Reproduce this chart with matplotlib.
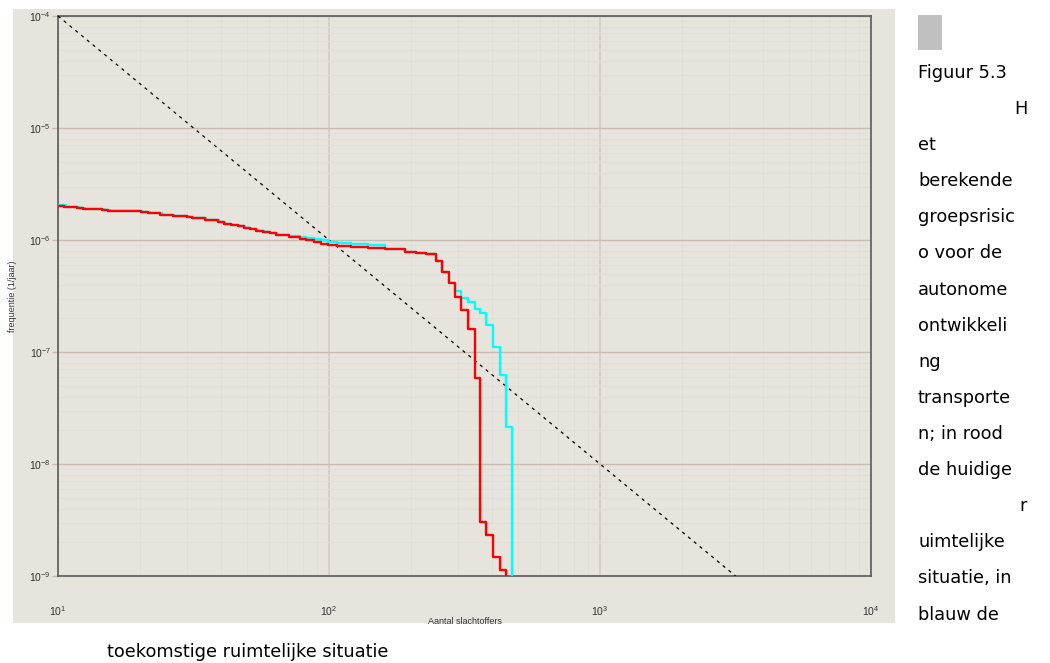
import matplotlib
matplotlib.use("Agg")
import matplotlib.pyplot as plt
from matplotlib.patches import Rectangle
from matplotlib.ticker import LogLocator, NullFormatter

# ---------------- data ----------------
red_N = [10.00, 10.52, 11.75, 12.36, 14.53, 15.29, 18.12, 20.23, 21.47, 23.77,
         26.54, 29.89, 31.18, 34.83, 38.89, 40.92, 43.42, 46.08, 48.49, 51.02,
         54.00, 57.11, 60.45, 64.00, 71.20, 77.98, 82.54, 87.82, 93.76, 99.15,
         107.0, 120.9, 139.3, 160.4, 190.1, 208.7, 227.3, 247.4, 261.0, 276.2,
         290.6, 307.6, 325.3, 344.4, 360.9, 380.4, 402.3, 425.8, 450.7]
red_f = [2.023e-6, 1.983e-6, 1.943e-6, 1.904e-6, 1.865e-6, 1.827e-6, 1.808e-6, 1.778e-6, 1.742e-6, 1.682e-6,
         1.648e-6, 1.605e-6, 1.572e-6, 1.518e-6, 1.448e-6, 1.398e-6, 1.361e-6, 1.325e-6, 1.287e-6, 1.246e-6,
         1.211e-6, 1.179e-6, 1.155e-6, 1.108e-6, 1.064e-6, 1.027e-6, 1.000e-6, 9.66e-7, 9.27e-7, 9.02e-7,
         8.84e-7, 8.61e-7, 8.43e-7, 8.26e-7, 7.86e-7, 7.61e-7, 7.45e-7, 6.49e-7, 5.18e-7, 4.13e-7,
         3.12e-7, 2.37e-7, 1.605e-7, 5.86e-8, 3.05e-9, 2.32e-9, 1.487e-9, 1.131e-9, 1e-10]

cyan_N = [10.00, 10.70, 11.95, 12.60, 14.80, 15.55, 18.40, 20.50, 21.80, 24.10,
          26.90, 30.20, 31.50, 35.20, 39.30, 41.30, 43.80, 46.50, 48.90, 51.50,
          54.40, 57.50, 60.80, 64.40, 71.20, 77.98, 82.54, 87.82, 93.76, 99.15,
          107.0, 120.9, 139.3, 160.4, 190.1, 208.7, 227.3, 247.4, 261.0, 276.2,
          290.6, 307.6, 325.3, 344.4, 360.9, 380.4, 402.3, 425.8, 450.7, 474.2]
cyan_f = [2.05e-6, 1.983e-6, 1.943e-6, 1.904e-6, 1.865e-6, 1.827e-6, 1.808e-6, 1.778e-6, 1.742e-6, 1.682e-6,
          1.648e-6, 1.605e-6, 1.572e-6, 1.518e-6, 1.448e-6, 1.398e-6, 1.361e-6, 1.325e-6, 1.287e-6, 1.246e-6,
          1.211e-6, 1.179e-6, 1.155e-6, 1.108e-6, 1.086e-6, 1.057e-6, 1.035e-6, 1.014e-6, 9.94e-7, 9.66e-7,
          9.46e-7, 9.21e-7, 8.97e-7, 8.26e-7, 7.86e-7, 7.61e-7, 7.45e-7, 6.49e-7, 5.18e-7, 4.13e-7,
          3.50e-7, 3.03e-7, 2.77e-7, 2.42e-7, 2.23e-7, 1.742e-7, 1.115e-7, 6.23e-8, 2.15e-8, 1e-10]

norm_N = [10, 3162]
norm_f = [1e-4, 1e-9]

x_ticks = [10, 100, 1000, 10000]
x_ticklabels = [r'$10^{1}$', r'$10^{2}$', r'$10^{3}$', r'$10^{4}$']
y_ticks = [1e-9, 1e-8, 1e-7, 1e-6, 1e-5, 1e-4]
y_ticklabels = [r'$10^{-9}$', r'$10^{-8}$', r'$10^{-7}$', r'$10^{-6}$', r'$10^{-5}$', r'$10^{-4}$']

caption_lines = ["Figuur 5.3", "H", "et", "berekende", "groepsrisic", "o voor de",
                 "autonome", "ontwikkeli", "ng", "transporte", "n; in rood",
                 "de huidige", "r", "uimtelijke", "situatie, in", "blauw de"]
caption_right = {"H", "r"}
caption_tail = "toekomstige ruimtelijke situatie"

# ---------------- figure ----------------
plt.rcParams['mathtext.fontset'] = 'custom'
plt.rcParams['mathtext.rm'] = 'Liberation Sans'
plt.rcParams['mathtext.it'] = 'Liberation Sans'
plt.rcParams['font.family'] = ['Liberation Sans', 'DejaVu Sans']

W, H = 1050, 663
fig = plt.figure(figsize=(W / 100, H / 100), dpi=100)
fig.patch.set_facecolor('white')

panel_col = '#e7e4de'
fig.patches.append(Rectangle((13 / W, 1 - 623 / H), (895 - 13) / W, (623 - 9) / H,
                             transform=fig.transFigure, facecolor=panel_col,
                             edgecolor='none', zorder=-5))

ax = fig.add_axes([58 / W, 1 - 576 / H, (871 - 58) / W, (576 - 16) / H])
ax.set_zorder(2)
ax.set_facecolor(panel_col)
ax.set_xscale('log')
ax.set_yscale('log')
ax.set_xlim(10, 10000)
ax.set_ylim(1e-9, 1e-4)

ax.xaxis.set_minor_locator(LogLocator(base=10, subs=range(2, 10)))
ax.yaxis.set_minor_locator(LogLocator(base=10, subs=range(2, 10)))
ax.xaxis.set_minor_formatter(NullFormatter())
ax.yaxis.set_minor_formatter(NullFormatter())
ax.grid(True, which='minor', color='#e2dfd9', linewidth=0.6, zorder=0)
ax.xaxis.grid(True, which='major', color='#d2cbc3', linewidth=1.2, zorder=0)
ax.yaxis.grid(True, which='major', color='#c7bcb2', linewidth=1.0, zorder=0)
ax.set_axisbelow(True)

ax.set_xticks(x_ticks)
ax.set_xticklabels(x_ticklabels)
ax.set_yticks(y_ticks)
ax.set_yticklabels(y_ticklabels)
ax.tick_params(which='minor', length=0)
ax.tick_params(axis='x', which='major', length=0, pad=20, labelsize=7.5, colors='#333333')
ax.tick_params(axis='y', which='major', length=4, width=1, color='#c5bab0', pad=1,
               labelsize=7.5, labelcolor='#333333')

for sp in ax.spines.values():
    sp.set_color('#5a5a5a')
    sp.set_linewidth(1.2)

ax.plot(norm_N, norm_f, color='black', linewidth=0.9, linestyle=(0, (2.5, 3.5)), zorder=3)
ax.plot(cyan_N, cyan_f, drawstyle='steps-post', color='#00ffff', linewidth=1.7, zorder=4)
ax.plot(red_N, red_f, drawstyle='steps-post', color='#ff0000', linewidth=1.7, zorder=5)

ax.set_xlabel('Aantal slachtoffers', fontsize=6.5, color='#333333')
ax.xaxis.set_label_coords(0.5, -(617 - 576) / 560)
ax.set_ylabel('frequentie (1/jaar)', fontsize=6.5, color='#333333')
ax.yaxis.set_label_coords(-(58 - 17) / 813, 0.5)

# caption on the right
fig.patches.append(Rectangle((918 / W, 1 - 50 / H), 24 / W, 35 / H,
                             transform=fig.transFigure, facecolor='#c0c0c0',
                             edgecolor='none'))
y0 = 73
for i, line in enumerate(caption_lines):
    y = y0 + i * 36.1
    if line in caption_right:
        fig.text(1027 / W, 1 - y / H, line, ha='right', va='center',
                 fontsize=12.8, family='DejaVu Sans', color='black')
    else:
        fig.text(918 / W, 1 - y / H, line, ha='left', va='center',
                 fontsize=12.8, family='DejaVu Sans', color='black')
fig.text(107 / W, 1 - 652 / H, caption_tail, ha='left', va='center',
         fontsize=12.8, family='DejaVu Sans', color='black')

fig.savefig('out.png', dpi=100, facecolor='white')
